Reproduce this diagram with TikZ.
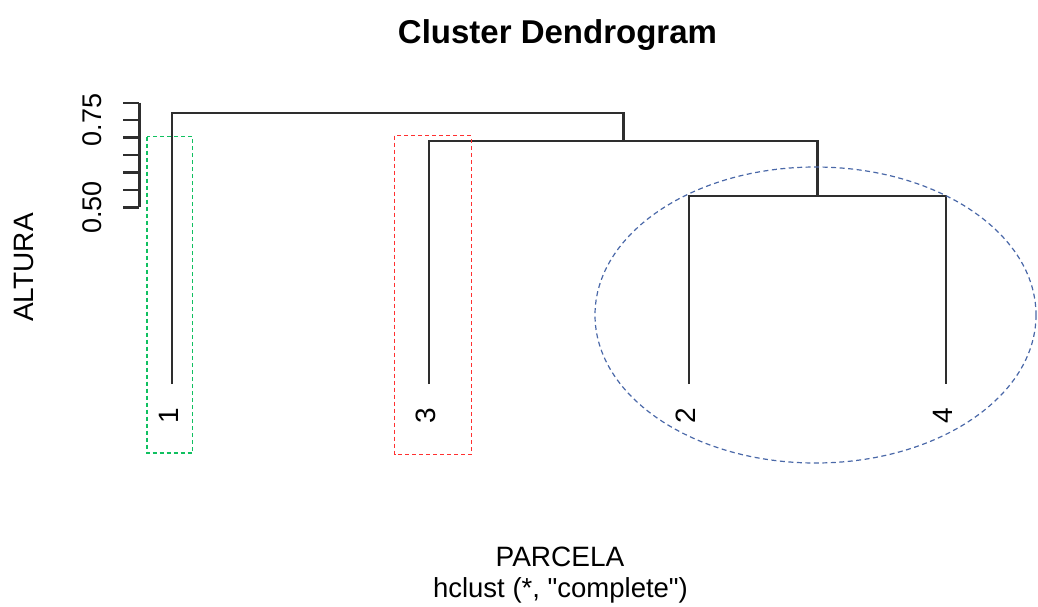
\documentclass[tikz,border=0pt]{standalone}
\usepackage{fontspec}
\setmainfont{Liberation Sans}
\newfontfamily\plainquotes{Liberation Sans}
\usepackage{tikz}
\usetikzlibrary{calc}
\usepackage{xcolor}
\definecolor{treegray}{HTML}{2E2E2E}
\definecolor{boxgreen}{HTML}{10C060}
\definecolor{boxred}{HTML}{FF3030}
\definecolor{ringblue}{HTML}{4A68A8}

\tikzset{
  branch/.style={treegray, line width=2.4pt},
  leaflabel/.style={rotate=90, inner sep=0pt, font=\fontsize{28}{28}\selectfont},
  groupbox/.style={dashed, dash pattern=on 4pt off 3pt, line width=1.2pt},
}

\begin{document}
\begin{tikzpicture}[x=1pt, y=-1pt]
      \useasboundingbox (0,0) rectangle (1038,606);
      % titles
      \node[anchor=base, font=\fontsize{33}{33}\selectfont\bfseries] (title)
        at (557.5,43.5) {Cluster Dendrogram};
      \node[anchor=base, font=\fontsize{28}{28}\selectfont] (xlab)
        at (560,566) {PARCELA};
      \node[anchor=base, font=\plainquotes\fontsize{27.5}{28}\selectfont] (method)
        at (560.5,597) {hclust (*, "complete")};
      \node[anchor=base, rotate=90, font=\fontsize{28}{28}\selectfont] (ylab)
        at (33.3,267.5) {ALTURA};
      % height axis, ticks every 0.05
      \draw[branch] (139.3,102.7) -- (139.3,207.3);
      \foreach \i in {0,...,6}
        \draw[branch] (123.3,207.3-17.43*\i) -- (139.3,207.3-17.43*\i);
      \node[anchor=base, rotate=90, font=\fontsize{27}{27}\selectfont] (t75)
        at (101.7,120) {0.75};
      \node[anchor=base, rotate=90, font=\fontsize{27}{27}\selectfont] (t50)
        at (101.7,207.3) {0.50};
      % leaves and joins
      \coordinate (leaf1) at (172,384);
      \coordinate (leaf3) at (429,384);
      \coordinate (leaf2) at (689,384);
      \coordinate (leaf4) at (946,384);
      \coordinate (join24) at (817.5,196);
      \coordinate (join324) at (623.5,141);
      \coordinate (joinall) at (398.5,113);
      \draw[branch] (leaf2) |- (join24) -| (leaf4);
      \draw[branch] (leaf3) |- (join324) -| (join24);
      \draw[branch] (leaf1) |- (joinall) -| (join324);
      \node[leaflabel] (lab1) at ($(leaf1)+(-3,32)$) {1};
      \node[leaflabel] (lab3) at ($(leaf3)+(-3,32)$) {3};
      \node[leaflabel] (lab2) at ($(leaf2)+(-3,32)$) {2};
      \node[leaflabel] (lab4) at ($(leaf4)+(-3,32)$) {4};
      % marked groups
      \draw[groupbox, boxgreen] (147,136.7) rectangle (192.7,453);
      \draw[groupbox, boxred] (394.7,135.7) rectangle (471.3,454.3);
      \draw[groupbox, ringblue, dash pattern=on 5pt off 3.5pt]
        (815.5,315) ellipse [x radius=220.5, y radius=148];
    \end{tikzpicture}
\end{document}
